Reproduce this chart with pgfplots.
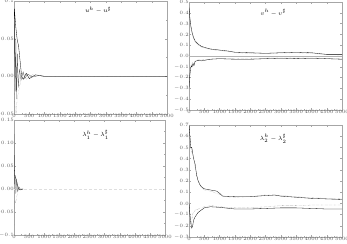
\documentclass[border=0pt]{standalone}
\usepackage{pgfplots}
\pgfplotsset{compat=1.18}
\begin{document}
\begin{tikzpicture}
\useasboundingbox (0,0) rectangle (347pt,243pt);
\pgfplotsset{
  every axis/.append style={
    anchor=south west, scale only axis,
    xmin=0, xmax=5000,
    xtick={0,500,...,5000},
    minor x tick num=1, minor y tick num=1,
    axis line style={gray!70, line width=0.3pt},
    tick style={gray!70, line width=0.25pt},
    major tick length=1.6pt, minor tick length=0.9pt,
    ticklabel style={font=\fontsize{2.6}{3}\selectfont, text=gray!70!black, inner sep=0.6pt},
    /pgf/number format/1000 sep={},
    xticklabel style={yshift=0.5pt},
    yticklabel style={xshift=0.5pt},
  },
  c1/.style={black, line width=0.3pt},
  c2/.style={gray!80!black, line width=0.3pt, densely dotted},
  c3/.style={gray!60!black, line width=0.25pt},
  zl/.style={gray!60, line width=0.3pt},
}
% ---------- top-left
\begin{axis}[at={(14pt,129pt)}, width=153pt, height=113pt,
  ymin=-0.05, ymax=0.1, ytick={-0.05,0,0.05,0.1},
  yticklabels={$-0.05$,$0.00$,$0.05$,$0.1$}]
\addplot[c1] coordinates {(0,0.0) (10,0.09) (30,0.08) (60,0.065) (100,0.05) (150,0.04) (200,0.02) (250,0.0) (300,-0.004) (400,0.004) (500,-0.003) (700,0.002) (1000,0) (5000,0)};
\addplot[c2] coordinates {(0,0) (15,-0.03) (40,-0.045) (70,-0.05) (100,-0.03) (150,-0.02) (200,-0.01) (250,0.0) (300,0.005) (400,-0.004) (600,0.002) (1000,0) (5000,0)};
\addplot[c3] coordinates {(0,0.02) (20,0.07) (40,-0.02) (60,0.05) (80,-0.03) (110,0.03) (140,-0.015) (180,0.01) (230,-0.005) (300,0.006) (350,-0.003) (450,0.003) (600,-0.001) (800,0.001) (1000,0) (5000,0)};
\node[font=\fontsize{6}{7}\selectfont] at (rel axis cs:0.55,0.92) {$u^{h}-u^{\sharp}$};
\end{axis}
% ---------- top-right
\begin{axis}[at={(189pt,133pt)}, width=153pt, height=108pt,
  ymin=-0.5, ymax=0.5, ytick={-0.5,-0.4,...,0.5},
  yticklabels={$-0.5$,$-0.4$,$-0.3$,$-0.2$,$-0.1$,$0.0$,$0.1$,$0.2$,$0.3$,$0.4$,$0.5$},
  minor y tick num=0]
\addplot[zl] coordinates {(0,0) (5000,0)};
\addplot[c1] coordinates {(0,0.45) (30,0.35) (60,0.28) (100,0.22) (150,0.17) (200,0.14) (300,0.11) (400,0.09) (500,0.08) (700,0.065) (1000,0.055) (1300,0.045) (1500,0.035) (2000,0.03) (2500,0.025) (3000,0.03) (3500,0.035) (4000,0.03) (4500,0.015) (5000,0.015)};
\addplot[c2] coordinates {(0,0.42) (30,0.33) (60,0.26) (100,0.2) (150,0.16) (200,0.13) (300,0.1) (400,0.085) (500,0.075) (700,0.06) (1000,0.05) (1300,0.04) (1500,0.03) (2000,0.025) (2500,0.02) (3000,0.028) (3500,0.03) (4000,0.025) (4500,0.012) (5000,0.01)};
\addplot[c1] coordinates {(0,-0.3) (20,-0.2) (50,-0.12) (80,-0.09) (100,-0.1) (130,-0.07) (160,-0.09) (200,-0.05) (300,-0.04) (400,-0.045) (500,-0.04) (700,-0.03) (1000,-0.025) (1500,-0.03) (2000,-0.03) (2500,-0.025) (3000,-0.02) (3500,-0.025) (4000,-0.02) (5000,-0.03)};
\addplot[c2] coordinates {(0,-0.27) (20,-0.18) (50,-0.1) (80,-0.08) (110,-0.06) (150,-0.07) (200,-0.045) (300,-0.035) (500,-0.035) (700,-0.028) (1000,-0.02) (1500,-0.025) (2000,-0.025) (2500,-0.02) (3000,-0.018) (3500,-0.02) (4000,-0.018) (5000,-0.025)};
\node[font=\fontsize{6}{7}\selectfont] at (rel axis cs:0.55,0.9) {$v^{h}-v^{\sharp}$};
\end{axis}
% ---------- bottom-left
\begin{axis}[at={(14pt,8pt)}, width=151pt, height=115pt,
  ymin=-0.1, ymax=0.15, ytick={-0.1,-0.05,0,0.05,0.1,0.15},
  yticklabels={$-0.1$,$-0.05$,$0.00$,$0.05$,$0.10$,$0.15$}]
\addplot[gray!25, line width=0.3pt, densely dashed] coordinates {(0,0) (5000,0)};
\addplot[c1] coordinates {(0,0.12) (5,0.05) (20,0.03) (50,0.025) (80,0.02) (110,0.01) (150,0.0) (200,-0.002) (300,0)};
\addplot[c2] coordinates {(0,-0.08) (5,-0.03) (20,-0.025) (50,-0.03) (80,-0.02) (110,-0.01) (150,0) (300,0)};
\addplot[c3] coordinates {(0,0.04) (20,0.01) (40,0.03) (60,-0.01) (90,0.02) (120,-0.005) (160,0.005) (200,0) (300,0)};
\node[font=\fontsize{6}{7}\selectfont] at (rel axis cs:0.54,0.87) {$\lambda_1^{h}-\lambda_1^{\sharp}$};
\end{axis}
% ---------- bottom-right
\begin{axis}[at={(189pt,6pt)}, width=153pt, height=112pt,
  ymin=-0.3, ymax=0.7, ytick={-0.3,-0.2,...,0.7},
  yticklabels={$-0.3$,$-0.2$,$-0.1$,$0.0$,$0.1$,$0.2$,$0.3$,$0.4$,$0.5$,$0.6$,$0.7$},
  minor y tick num=0]
\addplot[c1] coordinates {(0,0.7) (30,0.6) (60,0.5) (90,0.5) (120,0.45) (150,0.4) (200,0.35) (250,0.25) (300,0.2) (350,0.17) (400,0.15) (500,0.13) (700,0.12) (900,0.11) (1000,0.09) (1100,0.065) (1500,0.06) (2000,0.06) (2500,0.07) (2800,0.075) (3000,0.065) (3500,0.055) (4000,0.045) (4500,0.04) (5000,0.035)};
\addplot[c2] coordinates {(0,0.65) (50,0.5) (100,0.45) (150,0.42) (200,0.32) (300,0.2) (400,0.15) (500,0.12) (700,0.11) (1000,0.08) (1200,0.06) (1500,0.055) (2000,0.06) (2500,0.075) (3000,0.07) (3500,0.06) (4000,0.05) (5000,0.04)};
\addplot[c1] coordinates {(0,0) (30,-0.1) (60,-0.18) (90,-0.22) (120,-0.2) (150,-0.15) (200,-0.12) (300,-0.08) (400,-0.06) (500,-0.04) (700,-0.03) (1000,-0.035) (1500,-0.05) (2000,-0.05) (2500,-0.045) (3000,-0.04) (3500,-0.04) (4000,-0.045) (4500,-0.05) (5000,-0.05)};
\addplot[c2] coordinates {(0,-0.02) (40,-0.12) (80,-0.2) (110,-0.1) (150,-0.08) (200,-0.06) (300,-0.05) (500,-0.03) (700,-0.02) (1000,-0.03) (1500,-0.04) (2000,-0.04) (2500,-0.03) (3000,-0.02) (3500,-0.02) (4000,-0.015) (5000,-0.015)};
\node[font=\fontsize{6}{7}\selectfont] at (rel axis cs:0.55,0.88) {$\lambda_2^{h}-\lambda_2^{\sharp}$};
\end{axis}
\end{tikzpicture}
\end{document}
